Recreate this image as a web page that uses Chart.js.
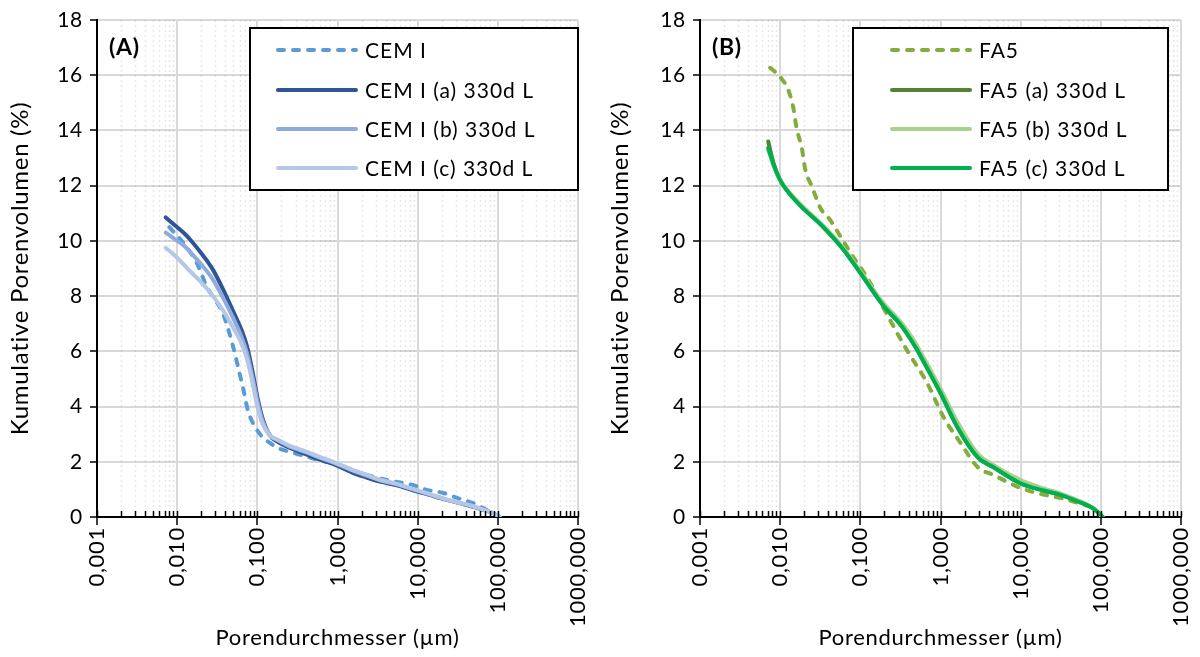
<!DOCTYPE html>
<html>
<head>
<meta charset="utf-8">
<script src="https://cdn.jsdelivr.net/npm/chart.js@4"></script>
<style>
  html, body { margin: 0; padding: 0; background: #fff; }
  .row { display: flex; width: 1200px; height: 657px; }
  canvas { display: block; }
</style>
</head>
<body>
<div class="row">
  <canvas id="chartA" width="600" height="657"></canvas>
  <canvas id="chartB" width="600" height="657"></canvas>
</div>
<script>
// ---- data ----
const xDecades = [0.001, 0.01, 0.1, 1, 10, 100, 1000]

// panel A
const cemLabels = ['CEM I', 'CEM I (a) 330d L', 'CEM I (b) 330d L', 'CEM I (c) 330d L']
const cemRefD = [0.008, 0.0125, 0.0176, 0.0235, 0.03, 0.037, 0.05, 0.06, 0.066, 0.076, 0.088, 0.099, 0.12, 0.144, 0.18, 0.255, 0.4, 0.6, 0.88, 1.5, 2.5, 4, 6, 8.7, 13, 21, 31, 49, 73, 105]
const cemRefV = [10.5, 9.85, 9.2, 8.33, 7.85, 7.39, 6.16, 5.2, 4.7, 3.88, 3.4, 3.15, 2.85, 2.68, 2.5, 2.36, 2.2, 2.05, 1.95, 1.7, 1.5, 1.35, 1.25, 1.16, 0.98, 0.87, 0.69, 0.5, 0.25, 0.0]
const cemD = [0.0072, 0.0095, 0.0125, 0.0145, 0.02, 0.028, 0.038, 0.05, 0.062, 0.074, 0.088, 0.1, 0.117, 0.144, 0.18, 0.255, 0.4, 0.6, 0.88, 1.5, 2.2, 3.4, 5.5, 8.7, 14, 23, 36, 55, 73, 90, 105]
const cemAV = [10.85, 10.55, 10.25, 10.05, 9.55, 8.95, 8.2, 7.45, 6.85, 6.2, 5.2, 4.35, 3.55, 2.95, 2.72, 2.5, 2.28, 2.08, 1.92, 1.62, 1.45, 1.28, 1.15, 0.97, 0.8, 0.62, 0.48, 0.33, 0.22, 0.12, 0.0]
const cemBV = [10.3, 10.05, 9.8, 9.6, 9.15, 8.6, 7.9, 7.2, 6.6, 5.95, 5.0, 4.2, 3.45, 2.95, 2.78, 2.55, 2.35, 2.15, 1.98, 1.7, 1.52, 1.33, 1.18, 1.0, 0.82, 0.62, 0.48, 0.34, 0.22, 0.12, 0.0]
const cemCV = [9.75, 9.45, 9.1, 8.9, 8.5, 8.0, 7.45, 6.85, 6.35, 5.75, 4.8, 4.0, 3.35, 2.95, 2.8, 2.58, 2.38, 2.18, 2.0, 1.72, 1.55, 1.35, 1.2, 1.02, 0.84, 0.64, 0.5, 0.35, 0.22, 0.12, 0.0]

// panel B
const faLabels = ['FA5', 'FA5 (a) 330d L', 'FA5 (b) 330d L', 'FA5 (c) 330d L']
const faRefD = [0.0075, 0.01, 0.0126, 0.0145, 0.016, 0.0188, 0.0205, 0.025, 0.0316, 0.042, 0.061, 0.082, 0.12, 0.2, 0.38, 0.68, 1.09, 1.78, 2.9, 4.6, 10, 20, 31.6, 50, 75, 90, 105]
const faRefV = [16.27, 15.94, 15.47, 14.86, 14.1, 13.3, 12.6, 11.96, 11.2, 10.76, 10.0, 9.4, 8.7, 7.5, 6.05, 4.86, 3.62, 2.68, 1.81, 1.52, 1.05, 0.8, 0.69, 0.52, 0.36, 0.2, 0.0]
const faD = [0.0071, 0.0082, 0.01, 0.0163, 0.0345, 0.061, 0.1, 0.194, 0.3, 0.38, 0.5, 0.61, 1.0, 1.62, 2.9, 4.6, 10, 20, 31.6, 50, 75, 90, 105]
const faAV = [13.6, 12.85, 12.2, 11.4, 10.5, 9.7, 8.84, 7.65, 7.05, 6.65, 6.1, 5.65, 4.49, 3.26, 2.17, 1.8, 1.22, 0.95, 0.8, 0.58, 0.36, 0.2, 0.0]
const faBV = [13.3, 12.75, 12.2, 11.45, 10.55, 9.75, 8.9, 7.75, 7.15, 6.78, 6.25, 5.8, 4.65, 3.45, 2.3, 1.88, 1.34, 1.02, 0.85, 0.62, 0.38, 0.2, 0.0]
const faCV = [13.37, 12.8, 12.2, 11.4, 10.5, 9.7, 8.84, 7.65, 7.05, 6.65, 6.1, 5.65, 4.49, 3.26, 2.17, 1.8, 1.22, 0.95, 0.8, 0.58, 0.36, 0.2, 0.0]

const FONT = 'Lato, "Open Sans", sans-serif'

function pts(d, v) {
  return d.map((x, i) => ({ x: x, y: v[i] }))
}

function series(label, d, v, color, dashed, order) {
  return {
    label: label,
    data: pts(d, v),
    borderColor: color,
    backgroundColor: color,
    borderWidth: 4,
    borderDash: dashed ? [6, 9] : [],
    borderCapStyle: 'round',
    borderJoinStyle: 'round',
    pointRadius: 0,
    cubicInterpolationMode: 'monotone',
    fill: false,
    order: order
  }
}

// minor dotted grid + inner tick marks on the x axis, panel letter, legend box
const decor = {
  id: 'decor',
  beforeDraw(chart) {
    // a bit of tracking, like the original's text (canvas resize resets it)
    chart.ctx.letterSpacing = '0.7px'
  },
  beforeDatasetsDraw(chart, args, opts) {
    const ctx = chart.ctx
    const xs = chart.scales.x
    const area = chart.chartArea
    ctx.save()
    for (let e = -3; e < 3; e++) {
      for (let m = 2; m <= 9; m++) {
        const px = Math.round(xs.getPixelForValue(m * Math.pow(10, e))) + 0.5
        ctx.strokeStyle = 'rgba(0,0,0,0.09)'
        ctx.lineWidth = 1.5
        ctx.setLineDash([2, 3])
        ctx.beginPath()
        ctx.moveTo(px, area.top)
        ctx.lineTo(px, area.bottom)
        ctx.stroke()
      }
    }
    ctx.restore()
  },
  afterDraw(chart, args, opts) {
    const ctx = chart.ctx
    const xs = chart.scales.x
    const area = chart.chartArea
    ctx.save()
    // tick marks pointing up into the plot
    ctx.strokeStyle = '#000'
    ctx.lineWidth = 1.5
    ctx.setLineDash([])
    for (let e = -3; e <= 3; e++) {
      for (let m = 1; m <= 9; m++) {
        if (e === 3 && m > 1) break
        const px = Math.round(xs.getPixelForValue(m * Math.pow(10, e))) + 0.5
        ctx.beginPath()
        ctx.moveTo(px, area.bottom)
        ctx.lineTo(px, area.bottom - 6)
        ctx.stroke()
      }
    }

    // panel letter
    ctx.fillStyle = '#000'
    ctx.font = 'bold 23px ' + FONT
    ctx.textAlign = 'left'
    ctx.textBaseline = 'middle'
    ctx.fillText(opts.letter, area.left + 12, area.top + 28)

    // legend
    const bx = area.left + opts.boxLeft
    const by = area.top + 8
    const bw = opts.boxWidth
    const bh = 162
    ctx.fillStyle = '#fff'
    ctx.fillRect(bx, by, bw, bh)
    ctx.strokeStyle = '#000'
    ctx.lineWidth = 2
    ctx.strokeRect(bx, by, bw, bh)
    const rows = [22, 62, 101, 140]
    chart.data.datasets.forEach((ds, i) => {
      const y = by + rows[i]
      ctx.strokeStyle = ds.borderColor
      ctx.lineWidth = 4
      ctx.lineCap = 'round'
      ctx.setLineDash(ds.borderDash)
      ctx.beginPath()
      ctx.moveTo(bx + opts.lineX, y)
      ctx.lineTo(bx + opts.lineX + 78, y)
      ctx.stroke()
      ctx.setLineDash([])
      ctx.fillStyle = '#000'
      ctx.font = '21px ' + FONT
      ctx.letterSpacing = '1px'
      ctx.textBaseline = 'middle'
      ctx.fillText(ds.label, bx + opts.lineX + 87, y + 1)
    })
    ctx.restore()
  }
}

function makeChart(id, datasets, axisLeft, decorOpts) {
  return new Chart(document.getElementById(id), {
    type: 'line',
    data: { datasets: datasets },
    plugins: [decor],
    options: {
      responsive: false,
      animation: false,
      devicePixelRatio: 1,
      layout: { padding: { top: 20, right: 600 - axisLeft - 481, left: 0, bottom: 0 } },
      plugins: {
        legend: { display: false },
        tooltip: { enabled: false },
        decor: decorOpts
      },
      scales: {
        x: {
          type: 'logarithmic',
          min: 0.001,
          max: 1000,
          afterBuildTicks: (scale) => {
            scale.ticks = xDecades.map(v => ({ value: v, major: true }))
          },
          afterFit: (scale) => {
            scale.height = 140
            scale.paddingLeft = 0
            scale.paddingRight = 0
          },
          ticks: {
            autoSkip: false,
            minRotation: 90,
            maxRotation: 90,
            padding: 2,
            color: '#000',
            font: { family: FONT, size: 22 },
            callback: (value) => Number(value).toFixed(3).replace('.', ',')
          },
          grid: {
            color: '#D9D9D9',
            lineWidth: 2,
            tickColor: '#000',
            tickLength: 8,
            tickWidth: 1.5
          },
          border: { color: '#000', width: 2 },
          title: {
            display: true,
            text: 'Porendurchmesser (µm)',
            color: '#000',
            font: { family: FONT, size: 22 },
            padding: { top: 0, bottom: 6 }
          }
        },
        y: {
          min: 0,
          max: 18,
          afterFit: (scale) => { scale.width = axisLeft },
          ticks: {
            stepSize: 2,
            padding: 7,
            color: '#000',
            font: { family: FONT, size: 21 }
          },
          grid: {
            color: '#D9D9D9',
            lineWidth: 2,
            tickColor: '#000',
            tickLength: 7,
            tickWidth: 1.5
          },
          border: { color: '#000', width: 2 },
          title: {
            display: true,
            text: 'Kumulative Porenvolumen (%)',
            color: '#000',
            font: { family: FONT, size: 24 },
            padding: { top: 6, bottom: 0 }
          }
        }
      }
    }
  })
}

makeChart('chartA', [
  series(cemLabels[0], cemRefD, cemRefV, '#5B9BD5', true, 3),
  series(cemLabels[1], cemD, cemAV, '#2F5597', false, 2),
  series(cemLabels[2], cemD, cemBV, '#8FAADC', false, 1),
  series(cemLabels[3], cemD, cemCV, '#B4C7E7', false, 0)
], 97, { letter: '(A)', boxLeft: 153, boxWidth: 328, lineX: 28 })

makeChart('chartB', [
  series(faLabels[0], faRefD, faRefV, '#84AC3C', true, 3),
  series(faLabels[1], faD, faAV, '#548235', false, 2),
  series(faLabels[2], faD, faBV, '#A9D18E', false, 1),
  series(faLabels[3], faD, faCV, '#00B050', false, 0)
], 100, { letter: '(B)', boxLeft: 153, boxWidth: 315, lineX: 39 })
</script>
</body>
</html>
